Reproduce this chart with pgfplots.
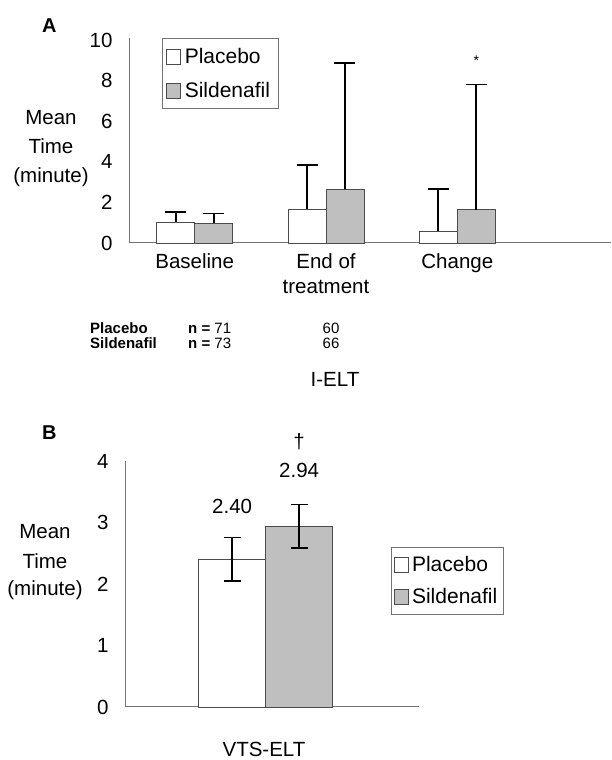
\documentclass[border=0pt]{standalone}
\usepackage{pgfplots}
\pgfplotsset{compat=1.18}
\usepackage{fontspec}
\setmainfont{Liberation Sans}

\definecolor{barfill}{gray}{0.75}
\definecolor{baredge}{gray}{0.3}
\definecolor{axisgray}{gray}{0.45}

\begin{document}
\begin{tikzpicture}[x=1pt,y=1pt]
\useasboundingbox (0,0) rectangle (611,760);
\pgfplotsset{
  every axis/.append style={
    scale only axis,
    font=\fontsize{20.5}{25.5}\selectfont,
    /pgf/number format/assume math mode=true,
    axis x line=bottom, axis y line=left,
    axis line style={axisgray, line width=1pt, -},
    major tick length=0pt,
    tick label style={font=\fontsize{20.5}{25.5}\selectfont},
    yticklabel style={xshift=-13pt},
    clip=false,
    legend cell align=left,
  },
  pbar/.style={ybar, bar width=0.289, bar shift=0pt, draw=baredge, line width=0.8pt, fill=white, mark=none},
  sbar/.style={ybar, bar width=0.289, bar shift=0pt, draw=baredge, line width=0.8pt, fill=barfill, mark=none},
  sqlegend/.style={legend image code/.code={\draw[##1, line width=0.6pt] (0pt,-7.5pt) rectangle (14pt,7.5pt);}},
}

% ---------- Panel A ----------
\begin{axis}[
  at={(129pt,517pt)}, anchor=south west,
  width=482pt, height=205pt,
  xmin=-0.5, xmax=3.17, ymin=0, ymax=10.1,
  ytick={0,2,4,6,8,10},
  xtick={0,1,2},
  xticklabels={Baseline,{End of\\treatment},Change},
  xticklabel style={align=center, anchor=north, yshift=-7pt},
  legend style={at={(0.068,1.0)}, anchor=north west, draw=axisgray, line width=0.8pt,
    font=\fontsize{21}{24}\selectfont, row sep=13pt, inner xsep=4pt, inner ysep=8pt,
    nodes={inner xsep=4pt}},
  sqlegend,
  error bars/y dir=plus, error bars/y explicit,
  error bars/error bar style={black, line width=1.8pt},
  error bars/error mark options={black, line width=1.6pt, mark size=10.5pt, rotate=90},
]
\addplot[pbar] coordinates {(-0.1445,1.03) +- (0,0.50) (0.8555,1.66) +- (0,2.18) (1.8555,0.59) +- (0,2.08)};
\addlegendentry{Placebo}
\addplot[sbar] coordinates {(0.1445,0.98) +- (0,0.47) (1.1445,2.64) +- (0,6.24) (2.1445,1.64) +- (0,6.16)};
\addlegendentry{Sildenafil}
\node[anchor=base, font=\fontsize{14}{16}\selectfont] at (axis cs:2.1445,8.75) {*};
\end{axis}

% ---------- Panel B ----------
\begin{axis}[
  at={(125pt,53pt)}, anchor=south west,
  width=294pt, height=246pt,
  xmin=0, xmax=4.39, ymin=0, ymax=4,
  ytick={0,1,2,3,4},
  xtick=\empty,
  legend style={at={(0.905,0.65)}, anchor=north west, draw=axisgray, line width=0.8pt,
    font=\fontsize{21}{24}\selectfont, row sep=11pt, inner xsep=3pt, inner ysep=7pt,
    nodes={inner xsep=3pt}},
  sqlegend,
  error bars/y dir=both, error bars/y explicit,
  error bars/error bar style={black, line width=1.8pt},
  error bars/error mark options={black, line width=1.6pt, mark size=8.5pt, rotate=90},
]
\addplot[pbar, bar width=1] coordinates {(1.6,2.40) +- (0,0.355)};
\addlegendentry{Placebo}
\addplot[sbar, bar width=1] coordinates {(2.6,2.94) +- (0,0.355)};
\addlegendentry{Sildenafil}
\node[anchor=base] at (axis cs:1.6,3.145) {2.40};
\node[anchor=base] at (axis cs:2.6,3.73) {2.94};
\node[anchor=base] at (axis cs:2.6,4.2) {\dag};
\end{axis}

% ---------- Text outside axes ----------
\begin{scope}[every node/.style={inner sep=0pt}]
\node[anchor=base west] at (42,727) {\fontsize{20}{24}\selectfont\bfseries A};
\node[anchor=base west] at (42,320) {\fontsize{20}{24}\selectfont\bfseries B};
% y label A
\node[anchor=base] at (51,635) {\fontsize{20.5}{24}\selectfont Mean};
\node[anchor=base] at (51,606) {\fontsize{20.5}{24}\selectfont Time};
\node[anchor=base] at (51,577) {\fontsize{20.5}{24}\selectfont (minute)};
% y label B
\node[anchor=base] at (45,221) {\fontsize{20.5}{24}\selectfont Mean};
\node[anchor=base] at (45,191) {\fontsize{20.5}{24}\selectfont Time};
\node[anchor=base] at (45,164) {\fontsize{20.5}{24}\selectfont (minute)};
% n table
\node[anchor=base west] at (90,426) {\fontsize{15}{17}\selectfont\bfseries Placebo};
\node[anchor=base west] at (90,411) {\fontsize{15}{17}\selectfont\bfseries Sildenafil};
\node[anchor=base west] at (188,426) {\fontsize{15}{17}\selectfont\textbf{n =} 71};
\node[anchor=base west] at (188,411) {\fontsize{15}{17}\selectfont\textbf{n =} 73};
\node[anchor=base] at (331,426) {\fontsize{15}{17}\selectfont 60};
\node[anchor=base] at (331,411) {\fontsize{15}{17}\selectfont 66};
% group labels
\node[anchor=base] at (335,373) {\fontsize{20.5}{24}\selectfont I-ELT};
\node[anchor=base] at (264,3) {\fontsize{20.5}{24}\selectfont VTS-ELT};
\end{scope}
\end{tikzpicture}
\end{document}
